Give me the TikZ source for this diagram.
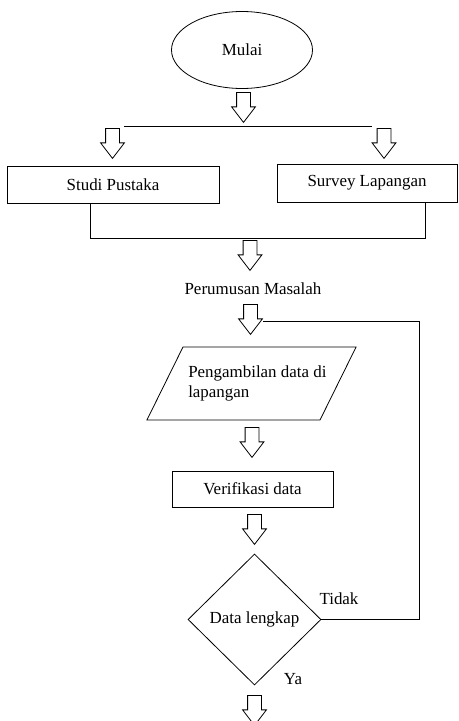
\documentclass[tikz,border=0pt]{standalone}
\usepackage{fontspec}
\setmainfont{Liberation Serif}
\usetikzlibrary{shapes.geometric, shapes.arrows}

\begin{document}
\begin{tikzpicture}[
    x=0.75pt, y=-0.75pt,
    every node/.style={font=\fontsize{12.7}{15}\selectfont},
    line/.style={draw=black, line width=0.6pt},
    startstop/.style={ellipse, draw=black, line width=0.6pt, minimum width=105.75pt, minimum height=57.75pt, inner sep=0pt},
    procbox/.style={rectangle, draw=black, line width=0.6pt, minimum height=27.75pt, inner sep=0pt},
    iobox/.style={trapezium, trapezium left angle=63.7, trapezium right angle=116.3, draw=black, line width=0.6pt, inner xsep=51.375pt, inner ysep=27.375pt},
    decision/.style={diamond, draw=black, line width=0.6pt, minimum width=99.75pt, minimum height=98.25pt, inner sep=0pt},
    blockarrow/.style={single arrow, draw=black, line width=0.6pt, shape border rotate=270, anchor=tail, inner sep=4.875pt, minimum height=22.5pt, single arrow head extend=3.75pt, single arrow tip angle=75},
    labelstyle/.style={inner sep=0pt}
]
    \useasboundingbox (0,0) rectangle (458,721);

    % Start
    \node (mulai) [startstop] at (242,50) {Mulai};
    \node (a1) [blockarrow] at (243.5,92) {};

    % Split into two studies
    \coordinate (splitL) at (124,126);
    \coordinate (splitR) at (372,126);
    \node (a2) [blockarrow] at (112.5,128) {};
    \node (a3) [blockarrow] at (384,128) {};
    \node (studi) [procbox, minimum width=159pt] at (113,184.5) {Studi Pustaka};
    \node (survey) [procbox, minimum width=135pt, minimum height=28.5pt] at (367,183) {Survey Lapangan};

    % Join
    \coordinate (joinL) at (90,238);
    \coordinate (joinR) at (425,238);
    \node (a4) [blockarrow] at (250,240) {};
    \node (rumus) [labelstyle] at (253,289) {Perumusan Masalah};
    \node (a5) [blockarrow] at (250.5,304) {};

    % Data collection
    \node (ambil) [iobox] at (251.5,383.5) {};
    \node (ambiltxt) [labelstyle, align=left, anchor=west] at (188,383) {Pengambilan data di\\lapangan};
    \node (a6) [blockarrow] at (252,427) {};
    \node (verif) [procbox, minimum width=120.75pt, minimum height=27pt] at (252.5,489) {Verifikasi data};
    \node (a7) [blockarrow] at (254.5,514) {};

    % Decision
    \node (cek) [decision] at (254.5,619.5) {Data lengkap};
    \node (tidak) [labelstyle] at (339,599) {Tidak};
    \node (ya) [labelstyle] at (293,679) {Ya};
    \node (a8) [blockarrow] at (254.5,695) {};

    % Loop back
    \coordinate (loopR) at (419,321);
    \coordinate (loopEnd) at (263,321);

    \draw [line] (splitL) -- (splitR);
    \draw [line] (studi.south -| joinL) -- (joinL) -- (joinR) -- (survey.south -| joinR);
    \draw [line] (cek.east) -| (loopR) -- (loopEnd);
\end{tikzpicture}
\end{document}
